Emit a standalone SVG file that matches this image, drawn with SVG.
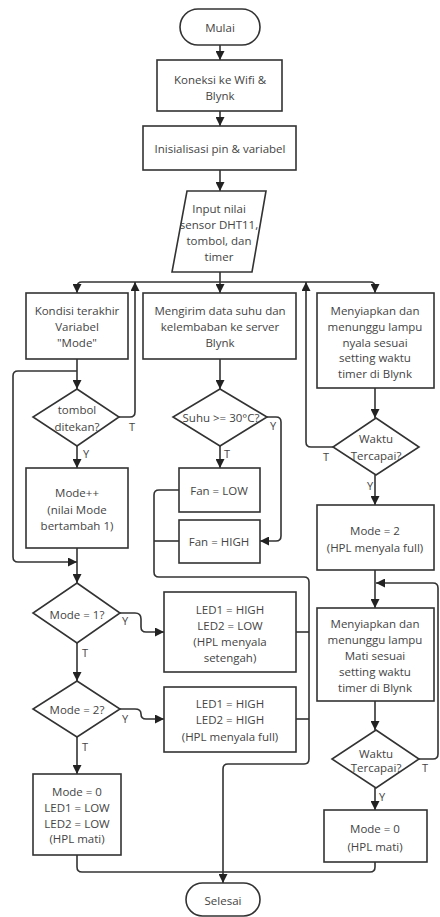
<svg xmlns="http://www.w3.org/2000/svg" width="440" height="917" viewBox="0 0 440 917">
<style>
.s{fill:#fff;stroke:#333;stroke-width:1.6}
.c{fill:none;stroke:#333;stroke-width:1.6}
.a{marker-end:url(#ah)}
text{font-family:"Open Sans","Noto Sans","Liberation Sans",sans-serif;font-size:11.5px;fill:#444;text-anchor:middle;dominant-baseline:central}
.l{font-size:11px}
</style>
<defs>
<marker id="ah" markerUnits="userSpaceOnUse" markerWidth="9" markerHeight="9" refX="9" refY="4.5" orient="auto">
<path d="M0,0 L9,4.5 L0,9 z" fill="#222"/>
</marker>
</defs>
<rect width="440" height="917" fill="#fff"/>
<g id="connectors">
<path class="c a" d="M220,45 V60"/>
<path class="c a" d="M220,111 V126"/>
<path class="c a" d="M220,170 V191"/>
<path class="c a" d="M220,272 V293"/>
<path class="c a" d="M220,282 H82 Q77,282 77,287 V293"/>
<path class="c a" d="M220,282 H370 Q375,282 375,287 V293"/>
<path class="c a" d="M77,359 V389"/>
<path class="c a" d="M77,371 H18 Q13,371 13,376 V557 Q13,562 18,562 H77"/>
<path class="c a" d="M119,417 H130 Q135,417 135,412 V282"/>
<path class="c a" d="M77,446 V468"/>
<path class="c a" d="M77,548 V583"/>
<path class="c a" d="M120,613 H135 Q141,613 141,619 V627 Q141,632 146,632 H164"/>
<path class="c a" d="M77,643 V681"/>
<path class="c a" d="M120,709 H135 Q141,709 141,714 Q141,719 146,719 H164"/>
<path class="c a" d="M77,737 V774"/>
<path class="c" d="M77,855 V867 Q77,872 82,872 H223"/>
<path class="c a" d="M220,359 V389"/>
<path class="c a" d="M267,417 H276 Q281,417 281,422 V536 Q281,541 276,541 H260"/>
<path class="c a" d="M220,446 V468"/>
<path class="c" d="M179,541 H154"/>
<path class="c a" d="M179,490 H159 Q154,490 154,495 V572 Q154,577 159,577 H304 Q309,577 309,582 V759 Q309,764 304,764 H228 Q223,764 223,769 V883"/>
<path class="c" d="M296,632 H309"/>
<path class="c" d="M296,719 H309"/>
<path class="c a" d="M375,388 V418"/>
<path class="c a" d="M333,447 H311 Q306,447 306,442 V282"/>
<path class="c a" d="M375,475 V505"/>
<path class="c a" d="M375,570 V608"/>
<path class="c a" d="M419,759 H433 Q438,759 438,754 V588 Q438,583 433,583 H376"/>
<path class="c a" d="M375,701 V730"/>
<path class="c a" d="M375,788 V810"/>
<path class="c" d="M375,862 V867 Q375,872 370,872 H223"/>
</g>
<g id="mulai"><rect class="s" x="180" y="9" width="80" height="36" rx="18"/><text x="220" y="27">Mulai</text></g>
<g id="koneksi"><rect class="s" x="157" y="60" width="125" height="51"/><text x="220" y="79">Koneksi ke Wifi &amp;</text><text x="220" y="95">Blynk</text></g>
<g id="init"><rect class="s" x="143" y="126" width="153" height="44"/><text x="220" y="148">Inisialisasi pin &amp; variabel</text></g>
<g id="input"><polygon class="s" points="187,191 266,191 252,272 172,272"/><text x="219" y="208">Input nilai</text><text x="219" y="224">sensor DHT11,</text><text x="219" y="240">tombol, dan</text><text x="219" y="256">timer</text></g>
<g id="kondisi"><rect class="s" x="26" y="293" width="102" height="66"/><text x="77" y="310">Kondisi terakhir</text><text x="77" y="326">Variabel</text><text x="77" y="342">"Mode"</text></g>
<g id="mengirim"><rect class="s" x="143" y="293" width="153" height="66"/><text x="220" y="310">Mengirim data suhu dan</text><text x="220" y="326">kelembaban ke server</text><text x="220" y="342">Blynk</text></g>
<g id="siap1"><rect class="s" x="317" y="293" width="117" height="95"/><text x="375" y="310">Menyiapkan dan</text><text x="375" y="326">menunggu lampu</text><text x="375" y="342">nyala sesuai</text><text x="375" y="357">setting waktu</text><text x="375" y="373">timer di Blynk</text></g>
<g id="tombol"><polygon class="s" points="77,389 119,417 77,446 33,417"/><text x="77" y="409">tombol</text><text x="77" y="426">ditekan?</text><text class="l" x="132" y="426">T</text><text class="l" x="86" y="453">Y</text></g>
<g id="suhu"><polygon class="s" points="220,389 267,417 220,446 173,417"/><text x="221" y="417">Suhu &gt;= 30°C?</text><text class="l" x="273" y="425">Y</text><text class="l" x="227" y="453">T</text></g>
<g id="waktu1"><polygon class="s" points="376,418 419,447 376,475 333,447"/><text x="376" y="438">Waktu</text><text x="376" y="455">Tercapai?</text><text class="l" x="326" y="456">T</text><text class="l" x="370" y="485">Y</text></g>
<g id="modepp"><rect class="s" x="26" y="468" width="102" height="80"/><text x="77" y="492">Mode++</text><text x="77" y="509">(nilai Mode</text><text x="77" y="525">bertambah 1)</text></g>
<g id="fanlow"><rect class="s" x="179" y="468" width="81" height="44"/><text x="219" y="490">Fan = LOW</text></g>
<g id="fanhigh"><rect class="s" x="179" y="520" width="81" height="43"/><text x="219" y="541">Fan = HIGH</text></g>
<g id="mode2box"><rect class="s" x="317" y="505" width="117" height="65"/><text x="375" y="530">Mode = 2</text><text x="375" y="547">(HPL menyala full)</text></g>
<g id="mode1q"><polygon class="s" points="77,583 120,613 77,643 33,613"/><text x="77" y="614">Mode = 1?</text><text class="l" x="125" y="620">Y</text><text class="l" x="85" y="652">T</text></g>
<g id="led1"><rect class="s" x="164" y="592" width="132" height="80"/><text x="230" y="609">LED1 = HIGH</text><text x="230" y="625">LED2 = LOW</text><text x="230" y="641">(HPL menyala</text><text x="230" y="657">setengah)</text></g>
<g id="siap2"><rect class="s" x="317" y="608" width="117" height="93"/><text x="375" y="623">Menyiapkan dan</text><text x="375" y="639">menunggu lampu</text><text x="375" y="655">Mati sesuai</text><text x="375" y="671">setting waktu</text><text x="375" y="687">timer di Blynk</text></g>
<g id="mode2q"><polygon class="s" points="77,681 120,709 77,737 33,709"/><text x="77" y="709">Mode = 2?</text><text class="l" x="125" y="718">Y</text><text class="l" x="85" y="746">T</text></g>
<g id="led2"><rect class="s" x="164" y="687" width="132" height="65"/><text x="230" y="703">LED1 = HIGH</text><text x="230" y="719">LED2 = HIGH</text><text x="230" y="736">(HPL menyala full)</text></g>
<g id="waktu2"><polygon class="s" points="376,730 419,759 376,788 332,759"/><text x="376" y="753">Waktu</text><text x="376" y="767">Tercapai?</text><text class="l" x="425" y="767">T</text><text class="l" x="382" y="796">Y</text></g>
<g id="mode0a"><rect class="s" x="33" y="774" width="88" height="81"/><text x="77" y="791">Mode = 0</text><text x="77" y="807">LED1 = LOW</text><text x="77" y="823">LED2 = LOW</text><text x="77" y="838">(HPL mati)</text></g>
<g id="mode0b"><rect class="s" x="324" y="810" width="103" height="52"/><text x="375" y="828">Mode = 0</text><text x="375" y="846">(HPL mati)</text></g>
<g id="selesai"><rect class="s" x="186" y="883" width="74" height="33" rx="16.5"/><text x="223" y="900">Selesai</text></g>
</svg>
